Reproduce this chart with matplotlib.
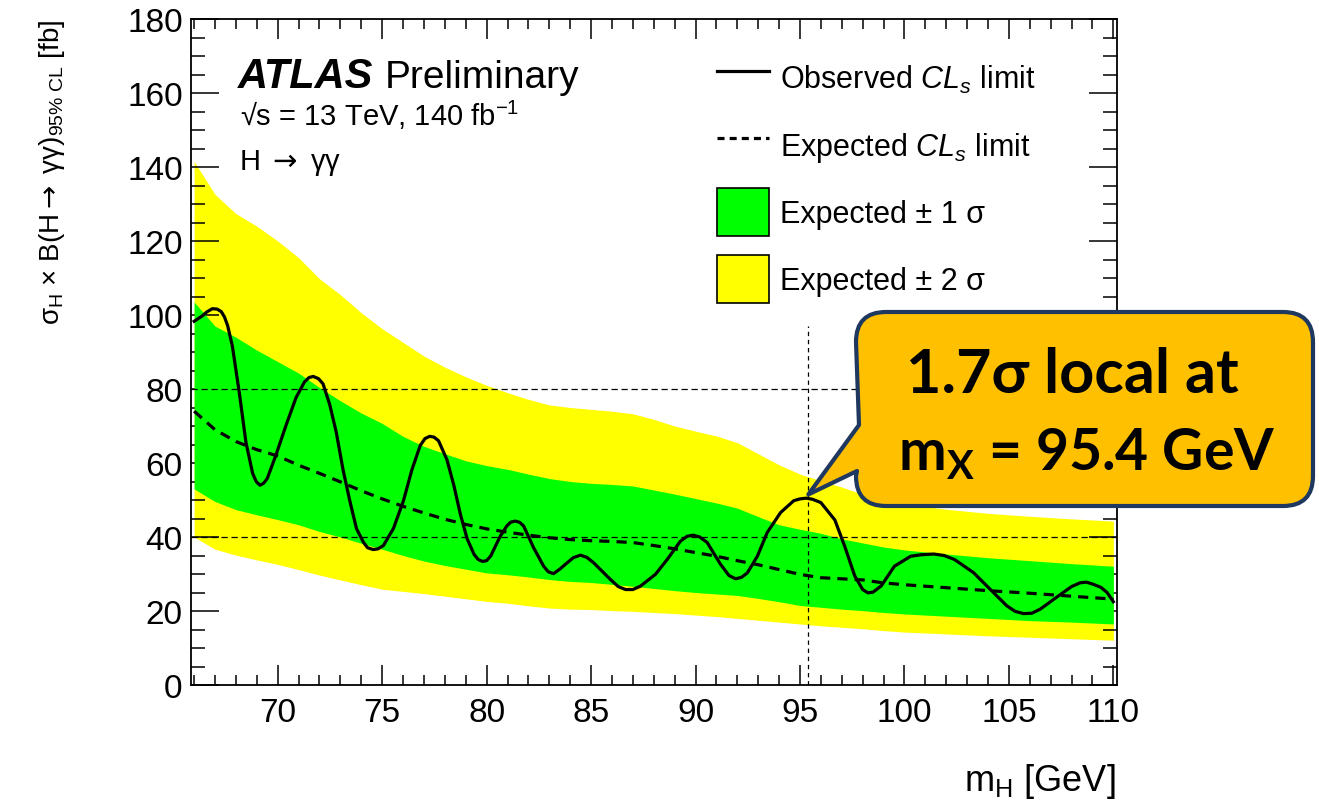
import matplotlib
matplotlib.use("Agg")
import matplotlib.pyplot as plt
from matplotlib.lines import Line2D
from matplotlib.patches import Patch, PathPatch
from matplotlib.path import Path
from matplotlib.ticker import MultipleLocator

plt.rcParams['font.family'] = ['Liberation Sans', 'DejaVu Sans']
plt.rcParams['mathtext.fontset'] = 'custom'
plt.rcParams['mathtext.rm'] = 'Liberation Sans'
plt.rcParams['mathtext.it'] = 'Liberation Sans:italic'
plt.rcParams['mathtext.bf'] = 'Liberation Sans:bold'
plt.rcParams['mathtext.sf'] = 'DejaVu Sans'

# ---- expected limit and its uncertainty bands [fb] ----
mass = [66, 67, 68, 69, 70, 71, 72, 73, 74, 75, 76, 77, 78, 79, 80, 81, 82, 83,
        84, 85, 86, 87, 88, 89, 90, 91, 92, 93, 94, 95, 96, 97, 98, 99, 100,
        102, 104, 106, 108, 110]
exp_limit = [74.0, 69.0, 65.8, 63.6, 61.9, 59.4, 57.2, 54.9, 52.5, 50.3, 48.3,
             46.5, 44.8, 43.4, 42.2, 41.3, 40.5, 39.8, 39.3, 39.0, 38.8, 38.5,
             37.7, 36.8, 35.8, 34.8, 33.6, 32.5, 31.2, 29.9, 29.0, 28.7, 28.4,
             27.6, 27.1, 26.3, 25.5, 24.8, 24.0, 23.2]
band1_hi = [103.5, 97.0, 94.0, 90.5, 87.4, 84.3, 80.4, 76.8, 73.5, 70.7, 67.2,
            64.5, 62.5, 60.6, 59.3, 58.3, 57.0, 55.8, 55.0, 54.5, 54.2, 53.8,
            52.7, 51.6, 50.4, 49.2, 47.8, 45.5, 43.3, 42.1, 41.0, 39.5, 38.4,
            37.3, 36.5, 35.4, 34.4, 33.6, 32.8, 32.1]
band1_lo = [53.0, 49.6, 47.4, 46.0, 44.7, 43.3, 41.5, 40.0, 38.3, 36.7, 35.0,
            33.5, 32.3, 31.3, 30.3, 29.8, 29.2, 28.5, 28.0, 27.7, 27.2, 26.7,
            26.1, 25.5, 25.0, 24.6, 24.2, 23.4, 22.5, 21.5, 21.0, 20.5, 20.1,
            19.6, 19.2, 18.6, 18.0, 17.4, 17.0, 16.5]
band2_hi = [141.5, 132.6, 127.4, 124.0, 120.0, 115.5, 109.8, 105.5, 100.6, 96.3,
            92.6, 88.9, 85.9, 83.3, 81.0, 79.0, 77.2, 75.7, 75.0, 74.5, 74.0,
            73.3, 71.8, 70.0, 68.6, 67.3, 65.5, 62.5, 59.5, 57.0, 55.2, 53.5,
            51.5, 50.0, 49.0, 47.5, 46.4, 45.6, 44.9, 44.3]
band2_lo = [40.0, 36.7, 35.1, 33.8, 32.6, 31.2, 29.7, 28.4, 27.1, 25.9, 25.3,
            24.7, 24.0, 23.3, 22.6, 22.1, 21.4, 20.8, 20.5, 20.4, 20.1, 19.9,
            19.6, 19.3, 18.9, 18.5, 18.0, 17.5, 17.0, 16.5, 16.0, 15.6, 15.2,
            14.7, 14.3, 13.8, 13.3, 12.9, 12.5, 12.1]

# ---- observed limit [fb] ----
obs_mass = [66.0, 66.4, 66.6, 66.87, 67.1, 67.3, 67.45, 67.6, 67.83, 68.15,
            68.48, 68.8, 68.98, 69.15, 69.32, 69.5, 69.9, 70.4, 70.88, 71.28,
            71.5, 71.7, 71.95, 72.17, 72.49, 72.8, 73.13, 73.45, 73.77, 74.1,
            74.3, 74.57, 74.8, 75.06, 75.54, 76.02, 76.42, 76.82, 77.05, 77.27,
            77.48, 77.7, 78.1, 78.43, 78.75, 79.07, 79.4, 79.6, 79.8, 80.0,
            80.2, 80.65, 80.97, 81.15, 81.37, 81.57, 81.77, 82.25, 82.73, 82.95,
            83.2, 83.5, 83.85, 84.15, 84.49, 84.8, 85.13, 85.93, 86.3, 86.65,
            87.0, 87.36, 88.08, 88.64, 89.28, 89.6, 89.89, 90.2, 90.56, 91.2,
            91.6, 91.92, 92.2, 92.48, 92.96, 93.43, 94.07, 94.7, 95.0, 95.3,
            95.6, 96.0, 96.67, 97.14, 97.62, 98.0, 98.25, 98.5, 98.89, 99.52,
            100.3, 100.8, 101.4, 101.9, 102.4, 103.3, 104.1, 104.9, 105.3,
            105.7, 106.1, 106.5, 107.5, 108.0, 108.4, 108.7, 109.0, 109.4,
            109.7, 110.0]
obs_limit = [98.3, 99.8, 100.8, 101.7, 101.6, 100.9, 99.5, 97.2, 91.6, 79.5,
             65.6, 57.2, 54.9, 54.0, 54.5, 55.8, 61.9, 70.2, 77.7, 81.9,
             83.1, 83.4, 82.8, 81.4, 75.8, 68.4, 58.1, 49.8, 42.3, 38.6,
             37.1, 36.6, 36.8, 37.7, 42.3, 49.8, 58.1, 64.7, 66.6, 67.2,
             67.0, 66.0, 60.9, 54.0, 46.0, 39.5, 35.3, 33.9, 33.4, 33.6,
             34.9, 40.2, 43.0, 44.0, 44.3, 44.0, 43.0, 37.1, 32.1, 30.6,
             30.1, 31.3, 33.0, 34.4, 35.1, 34.5, 33.0, 28.5, 26.6, 25.8,
             25.8, 26.7, 29.9, 33.9, 38.9, 40.2, 40.5, 40.0, 38.5, 32.6,
             29.6, 28.7, 29.1, 30.3, 34.8, 41.2, 46.6, 49.8, 50.3, 50.5,
             50.2, 49.3, 44.6, 37.5, 29.5, 25.8, 24.9, 25.1, 26.8, 32.1,
             34.8, 35.2, 35.4, 35.0, 33.9, 30.4, 25.9, 21.4, 19.9,
             19.3, 19.4, 20.5, 24.6, 26.6, 27.6, 27.8, 27.3, 26.4,
             25.0, 22.5]

peak_mass = 95.4
peak_limit = 51.5
guide_levels = [80, 40]

W, H = 1319, 803
fig = plt.figure(figsize=(W / 100, H / 100), dpi=100)
ax = fig.add_axes([191 / W, 1 - 686 / H, (1116.7 - 191) / W, (686 - 20) / H])

ax.fill_between(mass, band2_lo, band2_hi, color='#ffff00', lw=0, zorder=1)
ax.fill_between(mass, band1_lo, band1_hi, color='#00ff00', lw=0, zorder=2)
for lvl in guide_levels:
    ax.axhline(lvl, color='black', lw=0.9, ls=(0, (5, 3)), zorder=3)
ax.plot([peak_mass, peak_mass], [0, 97], color='black', lw=0.9,
        ls=(0, (3.5, 3)), zorder=3)
ax.plot(mass, exp_limit, color='black', lw=2.3, ls=(0, (3.2, 2.2)), zorder=4)
ax.plot(obs_mass, obs_limit, color='black', lw=2.3, zorder=5,
        solid_joinstyle='round')

ax.set_xlim(65.85, 110.16)
ax.set_ylim(0, 180)
ax.xaxis.set_major_locator(MultipleLocator(5))
ax.xaxis.set_minor_locator(MultipleLocator(1))
ax.yaxis.set_major_locator(MultipleLocator(20))
ax.yaxis.set_minor_locator(MultipleLocator(5))
ax.set_xticks([70, 75, 80, 85, 90, 95, 100, 105, 110])
ax.tick_params(which='both', direction='in', top=True, right=True,
               width=1.1, labelsize=24)
ax.tick_params(axis='x', which='major', length=14.5, pad=9)
ax.tick_params(axis='x', which='minor', length=7.2)
ax.tick_params(axis='y', which='major', length=20, pad=6)
ax.tick_params(axis='y', which='minor', length=10)
for s in ax.spines.values():
    s.set_linewidth(1.3)

# axis titles
fig.text(1116 / W, 1 - 791 / H, r'm$_{\mathrm{H}}$ [GeV]', ha='right',
         va='baseline', fontsize=26)
fig.text(52 / W, 1 - 20 / H,
         r'σ$_{\mathrm{H}}$ × B(H$\mathsf{\rightarrow}$ γγ)'
         r'$_{\mathrm{95\%\ CL}}$ [fb]',
         rotation=90, ha='center', va='top', fontsize=20)

# experiment labels
fig.text(238 / W, 1 - 88 / H, 'ATLAS', fontsize=30, fontweight='bold',
         fontstyle='italic', va='baseline')
fig.text(385 / W, 1 - 88 / H, 'Preliminary', fontsize=28, va='baseline')
fig.text(240 / W, 1 - 126 / H, r'√s = 13 TeV, 140 fb$^{\mathrm{-1}}$',
         fontsize=21, va='baseline')
fig.text(239 / W, 1 - 170 / H, r'H $\mathsf{\rightarrow}$ γγ', fontsize=21,
         va='baseline')

# legend
handles = [Line2D([], [], color='black', lw=2.3),
           Line2D([], [], color='black', lw=2.3, ls=(0, (2.2, 1.6))),
           Patch(facecolor='#00ff00', edgecolor='black', lw=1.2),
           Patch(facecolor='#ffff00', edgecolor='black', lw=1.2)]
labels = [r'Observed $CL_s$ limit', r'Expected $CL_s$ limit',
          'Expected ± 1 σ', 'Expected ± 2 σ']
fs_leg = 22
fs_px = fs_leg * 100 / 72
box_px = 48
hh = (box_px / fs_px - 0.245) / 0.65
ax.legend(handles, labels, loc='upper left',
          bbox_to_anchor=(717 / W, 1 - (79 - box_px / 2) / H),
          bbox_transform=fig.transFigure,
          frameon=False, fontsize=fs_leg, borderpad=0, borderaxespad=0,
          handlelength=52 / fs_px, handleheight=hh,
          handletextpad=11 / fs_px, labelspacing=(67 - box_px) / fs_px)

# callout box pointing at the local excess
fig.canvas.draw()
tip_disp = ax.transData.transform((peak_mass, peak_limit))
tip_fig = fig.transFigure.inverted().transform(tip_disp)


def fp(px, py):
    return (px / W, 1 - py / H)


L, R, T, B, r = 856, 1313, 313, 507, 30
verts = [fp(L + r, T), fp(R - r, T), fp(R, T), fp(R, T + r),
         fp(R, B - r), fp(R, B), fp(R - r, B),
         fp(L + r, B), fp(L, B), fp(L, B - r),
         fp(L + 1, 472), tuple(tip_fig), fp(L + 3, 426),
         fp(L, T + r), fp(L, T), fp(L + r, T), fp(L + r, T)]
codes = [Path.MOVETO, Path.LINETO, Path.CURVE3, Path.CURVE3,
         Path.LINETO, Path.CURVE3, Path.CURVE3,
         Path.LINETO, Path.CURVE3, Path.CURVE3,
         Path.LINETO, Path.LINETO, Path.LINETO,
         Path.LINETO, Path.CURVE3, Path.CURVE3, Path.CLOSEPOLY]
callout = PathPatch(Path(verts, codes), facecolor='#ffc000',
                    edgecolor='#1f3860', lw=3.0, joinstyle='round',
                    transform=fig.transFigure, zorder=10)
fig.add_artist(callout)
cfont = ['Lato', 'DejaVu Sans']
fig.text(1072 / W, 1 - 393 / H, '1.7σ local at', family=cfont,
         fontweight='bold', fontsize=44, ha='center', va='baseline', zorder=11)
fig.text(1087 / W, 1 - 470 / H, r'm$_{\mathregular{X}}$ = 95.4 GeV',
         family=cfont, fontweight='bold', fontsize=41, ha='center',
         va='baseline', zorder=11)

fig.savefig('out.png', dpi=100)
